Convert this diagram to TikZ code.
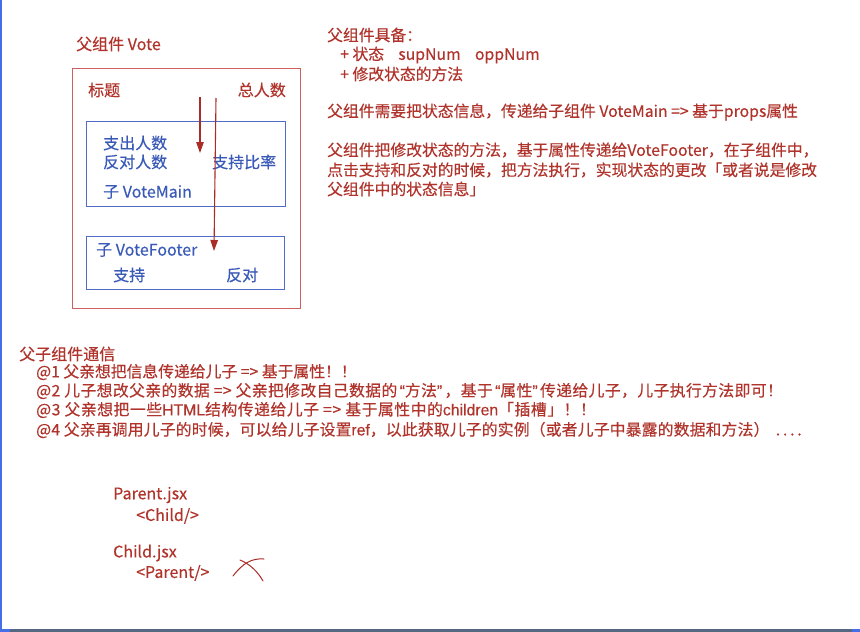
\documentclass[tikz,border=0pt]{standalone}
\usepackage{fontspec}
\setmainfont{Noto Sans CJK SC}[BoldFont=Noto Sans CJK SC,BoldFeatures={FakeBold=0.35}]
\newfontfamily\latin{Liberation Sans}[BoldFont=Liberation Sans,BoldFeatures={FakeBold=0.35}]
\usetikzlibrary{arrows.meta,positioning}
\definecolor{txtred}{RGB}{176,52,44}
\definecolor{boxred}{RGB}{204,96,96}
\definecolor{arrred}{RGB}{170,44,38}
\definecolor{txtblue}{RGB}{58,90,184}
\definecolor{boxblue}{RGB}{80,108,200}
\definecolor{edgeblue}{RGB}{70,110,230}
\definecolor{barblue}{RGB}{84,104,132}
\newcommand{\openq}{\hspace{0.15em}{\latin “}}
\newcommand{\closeq}{{\latin ”}\hspace{0.15em}}
\newcommand{\lat}[1]{{\latin #1}}
\newcommand{\etc}{\hspace{0.4em}.\kern2.8pt.\kern2.8pt.\kern2.8pt.}

\begin{document}
\begin{tikzpicture}[x=1pt,y=-1pt,
  every node/.style={font=\fontsize{16}{19}\selectfont\bfseries,inner sep=0pt,anchor=west},
  rtxt/.style={text=txtred},
  btxt/.style={text=txtblue},
  small/.style={font=\fontsize{15.8}{19}\selectfont\bfseries},
  spread/.style={font=\fontsize{15.8}{19}\selectfont\bfseries\addfontfeature{LetterSpace=#1}},
  redbox/.style={draw=boxred,line width=1pt,anchor=north west},
  bluebox/.style={draw=boxblue,line width=1pt,anchor=north west},
  flow/.style={draw=arrred,line width=1.1pt,-{Triangle[length=11pt,width=7.5pt]}}]
\useasboundingbox (0,0) rectangle (860,632);
\fill[white] (0,0) rectangle (860,632);
\draw[edgeblue,line width=1.5pt] (0.75,0) -- (0.75,630);
\fill[barblue] (0,629) rectangle (860,632);
\fill[edgeblue] (0,629) rectangle (10,632);
\fill[edgeblue] (852,629) rectangle (860,632);

\node[rtxt] (vote) at (76,44) {父组件 Vote};
\node[redbox,minimum width=228pt,minimum height=240pt] (parent) at (72,68) {};
\node[rtxt] (title) at (88,90) {标题};
\node[rtxt,anchor=east] (total) at (286,90) {总人数};

\node[bluebox,minimum width=199pt,minimum height=85pt] (main) at (86,121) {};
\node[btxt] (sup) at (103,143) {支出人数};
\node[btxt] (opp) at (103,162) {反对人数};
\node[btxt] (rate) at (212,162) {支持比率};
\node[btxt] (mainname) at (103,192) {子 VoteMain};

\node[bluebox,minimum width=198pt,minimum height=53pt] (footer) at (86,236) {};
\node[btxt] (footname) at (96,250) {子 VoteFooter};
\node[btxt] (yes) at (113,275) {支持};
\node[btxt] (no) at (226,275) {反对};

\coordinate (a1s) at (200,97);
\coordinate (a1e) at (200,153);
\coordinate (a2s) at (216,98);
\coordinate (a2e) at (214,251);
\draw[flow] (a1s) -- (a1e);
\draw[flow] (a2s) -- (a2e);

\node[rtxt,small] (has) at (327,35) {父组件具备：};
\node[rtxt,small] (has1) at (340,55) {+ 状态\hspace{0.9em}supNum\hspace{0.9em}oppNum};
\node[rtxt,small] (has2) at (340,74) {+ 修改状态的方法};
\node[rtxt,small] (pass) at (327,112) {父组件需要把状态信息，传递给子组件 VoteMain => 基于props属性};
\node[rtxt,small] (meth1) at (327,150) {父组件把修改状态的方法，基于属性传递给VoteFooter，在子组件中，};
\node[rtxt,small] (meth2) at (327,170) {点击支持和反对的时候，把方法执行，实现状态的更改「或者说是修改};
\node[rtxt,small] (meth3) at (327,189) {父组件中的状态信息」};

\node[rtxt] (comm) at (19,354) {父子组件通信};
\node[rtxt,small] (c1) at (36,372) {@1 父亲想把信息传递给儿子 => 基于属性！！};
\node[rtxt,spread=2.6] (c2) at (36,391) {@2 儿子想改父亲的数据 => 父亲把修改自己数据的\openq 方法\closeq ，基于\openq 属性\closeq 传递给儿子，儿子执行方法即可！};
\node[rtxt,spread=3.5] (c3) at (36,410) {@3 父亲想把一些\lat{HTML}结构传递给儿子 => 基于属性中的\lat{children}「插槽」！！};
\node[rtxt,spread=1.2] (c4) at (36,430) {@4 父亲再调用儿子的时候，可以给儿子设置\lat{ref}，以此获取儿子的实例（或者儿子中暴露的数据和方法）\etc};

\node[rtxt] (pfile) at (113,495) {Parent.jsx};
\node[rtxt] (pchild) at (136,516) {<Child/>};
\node[rtxt] (cfile) at (113,553) {Child.jsx};
\node[rtxt] (cparent) at (136,573) {<Parent/>};

\draw[arrred,line width=1pt,line cap=round] (233,576) .. controls (243,563) and (252,558) .. (264,559);
\draw[arrred,line width=1pt,line cap=round] (240,560) .. controls (250,564) and (258,572) .. (263,581);
\end{tikzpicture}
\end{document}
